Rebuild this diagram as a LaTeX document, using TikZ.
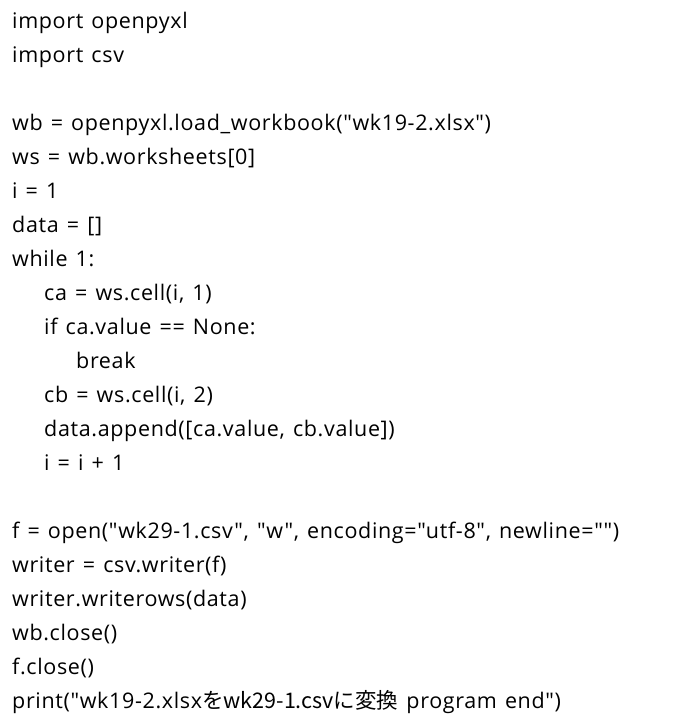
\documentclass[tikz,border=0pt]{standalone}
\usepackage{fontspec}
\setmainfont{Open Sans}[Ligatures=TeXOff,WordSpace=1.3,LetterSpace=3]
\newfontfamily\cjk{Noto Sans CJK JP}
\begin{document}
\begin{tikzpicture}[x=1pt,y=1pt,
  code/.style={anchor=base west,inner sep=0pt,font=\fontsize{21.5}{22}\selectfont,text=black}]
\useasboundingbox[fill=white] (0,0) rectangle (691,-726);
\def\L#1#2#3#4{\node[code] (#1) at (12+32*#2,{-28-34*(#3-1)}) {#4};}
\L{l1}{0}{1}{import openpyxl}
\L{l2}{0}{2}{import csv}
\L{l4}{0}{4}{wb = openpyxl.load\_workbook("wk19-2.xlsx")}
\L{l5}{0}{5}{ws = wb.worksheets[0]}
\L{l6}{0}{6}{i = 1}
\L{l7}{0}{7}{data = []}
\L{l8}{0}{8}{while 1:}
\L{l9}{1}{9}{ca = ws.cell(i, 1)}
\L{l10}{1}{10}{if ca.value == None:}
\L{l11}{2}{11}{break}
\L{l12}{1}{12}{cb = ws.cell(i, 2)}
\L{l13}{1}{13}{data.append([ca.value, cb.value])}
\L{l14}{1}{14}{i = i + 1}
\L{l16}{0}{16}{f = open("wk29-1.csv", "w", encoding="utf-8", newline="")}
\L{l17}{0}{17}{writer = csv.writer(f)}
\L{l18}{0}{18}{writer.writerows(data)}
\L{l19}{0}{19}{wb.close()}
\L{l20}{0}{20}{f.close()}
\L{l21}{0}{21}{print("wk19-2.xlsx{\cjk をwk29-1.csvに変換} program end")}
\end{tikzpicture}
\end{document}
